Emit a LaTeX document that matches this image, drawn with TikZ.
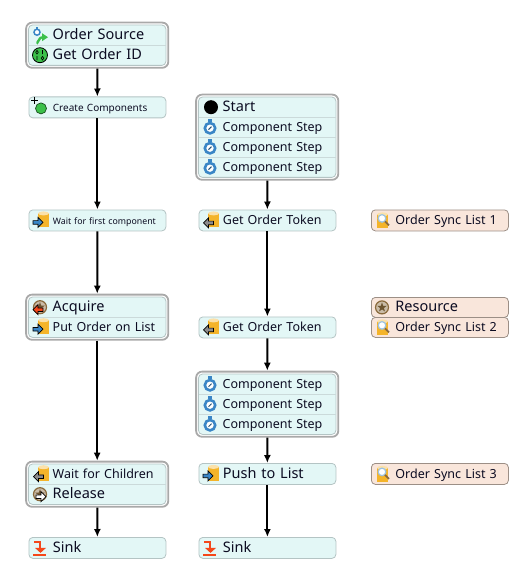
\documentclass[tikz,border=0pt]{standalone}
\usepackage{fontspec}
\setmainfont{Noto Sans}
\usetikzlibrary{arrows.meta, positioning, fit, backgrounds, calc}
\pgfdeclarelayer{frames}
\definecolor{rowfill}{HTML}{E3F7F6}
\definecolor{rowedge}{HTML}{B4C4C4}
\definecolor{rowline}{HTML}{CBDADA}
\definecolor{frameedge}{HTML}{A9A9A9}
\definecolor{resfill}{HTML}{F9E6DB}
\definecolor{resedge}{HTML}{9C8F86}
\definecolor{inktext}{HTML}{0C0C22}
\definecolor{watchblue}{HTML}{3A86C6}
\definecolor{drumyellow}{HTML}{F4B42A}
\definecolor{sinkred}{HTML}{F4471A}
\definecolor{leafgreen}{HTML}{3CC04A}
\definecolor{starbrown}{HTML}{8A6A3C}
\tikzset{
    rowbase/.style={rectangle, anchor=north west, minimum width=137bp,
        minimum height=20bp, inner ysep=0pt, inner xsep=6bp,
        text width=125bp, align=left, text height=10.5bp, text depth=1.5bp,
        text=inktext, execute at begin node={\hspace*{18bp}}},
    solo/.style={rowbase, draw=rowedge, fill=rowfill, rounded corners=4bp,
        line width=0.8bp, minimum height=21bp},
    lookup/.style={solo, draw=resedge, fill=resfill},
    resrow/.style={lookup, minimum height=20bp},
    bigfont/.style={font=\fontsize{14.5bp}{16bp}\selectfont},
    midfont/.style={font=\fontsize{12.5bp}{14bp}\selectfont},
    smallfont/.style={font=\fontsize{10bp}{12bp}\selectfont},
    tinyfont/.style={font=\fontsize{8.8bp}{10bp}\selectfont},
    groupin/.style={draw=rowedge, fill=rowfill, rounded corners=4bp,
        line width=0.8bp, inner sep=0pt},
    groupout/.style={draw=frameedge, fill=white, rounded corners=6bp,
        line width=1.8bp, inner sep=2bp},
    rowsep/.style={draw=rowline, line width=0.8bp},
    flow/.style={-{Latex[length=8bp, width=7bp]}, line width=2bp, color=black},
    pics/stopwatch/.style={code={
        \fill[watchblue] (-2,-8) rectangle (2,-5);
        \draw[watchblue, fill=white, line width=2.6bp] (0,1) circle (5.2);
        \draw[watchblue!60!black, line width=1bp] (-1.5,2.5) -- (1.5,-0.5);
    }},
    pics/drum/.style={code={
        \fill[drumyellow] (-4,-6) rectangle (7,8);
        \fill[drumyellow!40!white] (1.5,-6) ellipse (5.5 and 2);
    }},
    pics/flagright/.style={code={
        \draw[fill=#1, line width=0.7bp] (-6,-1.8) -- (-1,-1.8) -- (-1,-5)
            -- (4,0) -- (-1,5) -- (-1,1.8) -- (-6,1.8) -- cycle;
    }},
    pics/flagleft/.style={code={
        \draw[fill=#1, line width=0.7bp] (5,-1.8) -- (0,-1.8) -- (0,-5)
            -- (-5,0) -- (0,5) -- (0,1.8) -- (5,1.8) -- cycle;
    }},
    pics/pushicon/.style={code={
        \pic at (2,-1) {drum};
        \pic at (-1,2) {flagright=watchblue};
    }},
    pics/geticon/.style={code={
        \pic at (2,-1) {drum};
        \pic at (-1.5,2.5) {flagleft=black!45};
    }},
    pics/seekicon/.style={code={
        \pic at (-1,0) {drum};
        \draw[watchblue!50, fill=white, line width=1.2bp] (0,-2) circle (3.8);
        \draw[starbrown, line width=1.8bp] (3,1) -- (7,5);
    }},
    pics/staricon/.style={code={
        \draw[starbrown, fill=starbrown!45!white, line width=1.2bp] (0,0) circle (6.5);
        \fill[starbrown!80!black] (-90:5) -- (-54:2) -- (-18:5) -- (18:2) -- (54:5)
            -- (90:2) -- (126:5) -- (162:2) -- (198:5) -- (234:2) -- cycle;
    }},
    pics/sinkicon/.style={code={
        \draw[sinkred, line width=2.4bp] (-6,-6) -- (0,-6) -- (0,1);
        \fill[sinkred] (-5,0) -- (6,0) -- (0.5,5) -- cycle;
        \fill[sinkred] (-7,6) rectangle (6,8);
    }},
    pics/sourceicon/.style={code={
        \draw[watchblue, fill=white, line width=1.5bp] (-3,-3) circle (3);
        \fill[watchblue] (-4,-8.5) rectangle (-2,-6.5);
        \draw[leafgreen, line width=2.4bp] (-3,7) to[out=-90, in=180] (2,2);
        \fill[leafgreen] (2,-2) -- (8,2) -- (2,6) -- cycle;
    }},
    pics/idicon/.style={code={
        \draw[black, fill=leafgreen, line width=0.8bp] (0,0) circle (7.5);
        \draw[black, line width=0.6bp] (-3,-3) ellipse (1.3 and 1.8)
            (2.5,-5) -- (2.5,-1) (-3,1) -- (-3,5) (2.5,3) ellipse (1.3 and 1.8);
    }},
    pics/createicon/.style={code={
        \draw[black, line width=1.5bp] (-9,-7) -- (-2,-7) (-5.5,-10.5) -- (-5.5,-3.5);
        \draw[black!60!leafgreen, fill=leafgreen, line width=0.7bp] (1,1) circle (5.5);
    }},
}
\begin{document}
\begin{tikzpicture}[x=1bp, y=-1bp]
\pgfsetlayers{frames,background,main}
\useasboundingbox (0,0) rectangle (522,575);

% ================================================================
%  LEFT COLUMN
% ================================================================

\node[rowbase, bigfont] (source) at (28.5,25) {Order Source};
\node[rowbase, bigfont] (orderid) at (28.5,45) {Get Order ID};
\node[solo, smallfont] (create) at (28.5,96.5) {Create Components};
\node[solo, tinyfont] (waitfirst) at (28.5,209.5) {Wait for first component};
\node[rowbase, bigfont] (acquire) at (28.5,297) {Acquire};
\node[rowbase, midfont] (putorder) at (28.5,317) {Put Order on List};
\node[rowbase, midfont] (waitkids) at (28.5,464) {Wait for Children};
\node[rowbase, bigfont] (release) at (28.5,484) {Release};
\node[solo, bigfont] (sinkleft) at (28.5,537) {Sink};

\begin{scope}[on background layer]
    \node[groupin, fit=(source)(orderid)] (sourcein) {};
    \node[groupin, fit=(acquire)(putorder)] (acquirein) {};
    \node[groupin, fit=(waitkids)(release)] (waitin) {};
\end{scope}

% ================================================================
%  MIDDLE COLUMN
% ================================================================

\node[rowbase, bigfont] (start) at (198.5,97) {Start};
\node[rowbase, midfont] (stepa) at (198.5,117) {Component Step};
\node[rowbase, midfont] (stepb) at (198.5,137) {Component Step};
\node[rowbase, midfont] (stepc) at (198.5,157) {Component Step};
\node[solo, midfont] (tokena) at (198.5,209.5) {Get Order Token};
\node[solo, midfont] (tokenb) at (198.5,316.5) {Get Order Token};
\node[rowbase, midfont] (stepd) at (198.5,374) {Component Step};
\node[rowbase, midfont] (stepe) at (198.5,394) {Component Step};
\node[rowbase, midfont] (stepf) at (198.5,414) {Component Step};
\node[solo, bigfont] (pushlist) at (198.5,463) {Push to List};
\node[solo, bigfont] (sinkmid) at (198.5,537) {Sink};

\begin{scope}[on background layer]
    \node[groupin, fit=(start)(stepc)] (startin) {};
    \node[groupin, fit=(stepd)(stepf)] (stepsin) {};
\end{scope}

% ================================================================
%  RIGHT COLUMN
% ================================================================

\node[lookup, midfont] (syncone) at (371,209.5) {Order Sync List 1};
\node[resrow, bigfont] (resource) at (371,297) {Resource};
\node[resrow, midfont] (synctwo) at (371,317) {Order Sync List 2};
\node[lookup, midfont] (syncthree) at (371,463) {Order Sync List 3};

% ================================================================
%  OUTER FRAMES
% ================================================================

\begin{pgfonlayer}{frames}
    \node[groupout, fit=(sourcein)] (sourcebox) {};
    \node[groupout, fit=(acquirein)] (acquirebox) {};
    \node[groupout, fit=(waitin)] (waitbox) {};
    \node[groupout, fit=(startin)] (startbox) {};
    \node[groupout, fit=(stepsin)] (stepsbox) {};
\end{pgfonlayer}

% row separators
\draw[rowsep] (source.south west) -- (source.south east);
\draw[rowsep] (acquire.south west) -- (acquire.south east);
\draw[rowsep] (waitkids.south west) -- (waitkids.south east);
\draw[rowsep] (start.south west) -- (start.south east);
\draw[rowsep] (stepa.south west) -- (stepa.south east);
\draw[rowsep] (stepb.south west) -- (stepb.south east);
\draw[rowsep] (stepd.south west) -- (stepd.south east);
\draw[rowsep] (stepe.south west) -- (stepe.south east);

% ================================================================
%  ICONS
% ================================================================

\pic at ([xshift=11.5bp]source.west) {sourceicon};
\pic at ([xshift=11.5bp]orderid.west) {idicon};
\pic at ([xshift=11.5bp]create.west) {createicon};
\pic at ([xshift=11.5bp]waitfirst.west) {pushicon};
\pic at ([xshift=11.5bp]acquire.west) {staricon};
\pic at ([xshift=9.5bp, yshift=-2.5bp]acquire.west) {flagleft=sinkred};
\pic at ([xshift=11.5bp]putorder.west) {pushicon};
\pic at ([xshift=11.5bp]waitkids.west) {geticon};
\pic at ([xshift=11.5bp]release.west) {staricon};
\pic at ([xshift=13.5bp, yshift=-2.5bp]release.west) {flagright=white};
\pic at ([xshift=11.5bp]sinkleft.west) {sinkicon};

\fill[black] ([xshift=12.5bp]start.west) circle (7);
\pic at ([xshift=11.5bp]stepa.west) {stopwatch};
\pic at ([xshift=11.5bp]stepb.west) {stopwatch};
\pic at ([xshift=11.5bp]stepc.west) {stopwatch};
\pic at ([xshift=11.5bp]tokena.west) {geticon};
\pic at ([xshift=11.5bp]tokenb.west) {geticon};
\pic at ([xshift=11.5bp]stepd.west) {stopwatch};
\pic at ([xshift=11.5bp]stepe.west) {stopwatch};
\pic at ([xshift=11.5bp]stepf.west) {stopwatch};
\pic at ([xshift=11.5bp]pushlist.west) {pushicon};
\pic at ([xshift=11.5bp]sinkmid.west) {sinkicon};

\pic at ([xshift=11bp]syncone.west) {seekicon};
\pic at ([xshift=11bp]resource.west) {staricon};
\pic at ([xshift=11bp]synctwo.west) {seekicon};
\pic at ([xshift=11bp]syncthree.west) {seekicon};

% ================================================================
%  CONNECTORS
% ================================================================

\draw[flow] (sourcebox) -- (create);
\draw[flow] (create) -- (waitfirst);
\draw[flow] (waitfirst) -- (acquirebox);
\draw[flow] (acquirebox) -- (waitbox);
\draw[flow] (waitbox) -- (sinkleft);

\draw[flow] (startbox) -- (tokena);
\draw[flow] (tokena) -- (tokenb);
\draw[flow] (tokenb) -- (stepsbox);
\draw[flow] (stepsbox) -- (pushlist);
\draw[flow] (pushlist) -- (sinkmid);

\end{tikzpicture}
\end{document}
